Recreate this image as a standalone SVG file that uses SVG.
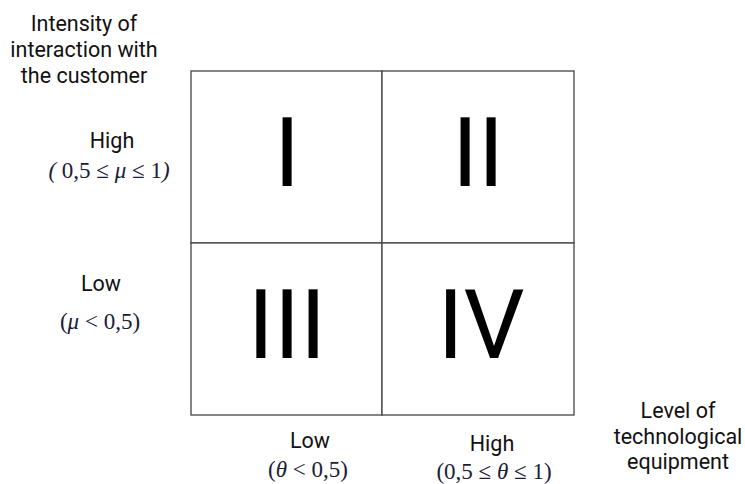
<svg xmlns="http://www.w3.org/2000/svg" width="745" height="484" viewBox="0 0 745 484">
<style>
.lbl{font-family:Roboto,"Liberation Sans",sans-serif;font-size:21.5px;fill:#111;text-anchor:middle}
.math{font-family:"Liberation Serif","DejaVu Serif",serif;font-size:23px;fill:#1a2036;text-anchor:middle;white-space:pre}
.rn{font-family:Roboto,"Liberation Sans",sans-serif;font-size:96px;fill:#000;text-anchor:middle}
.cell{fill:#fff;stroke:#444;stroke-width:1.3}
</style>
<rect width="745" height="484" fill="#fff"/>
<g id="axis-y">
<text class="lbl" x="84" y="31">Intensity of</text>
<text class="lbl" x="84" y="57">interaction with</text>
<text class="lbl" x="84" y="83">the customer</text>
</g>
<g id="y-high">
<text class="lbl" x="112" y="148">High</text>
<text class="math" x="109" y="178"><tspan font-style="italic">(</tspan> 0,5 ≤ <tspan font-style="italic">μ</tspan> ≤ 1<tspan font-style="italic">)</tspan></text>
</g>
<g id="y-low">
<text class="lbl" x="101" y="291">Low</text>
<text class="math" x="100" y="329">(<tspan font-style="italic">μ</tspan> &lt; 0,5)</text>
</g>
<g id="cell-I"><rect class="cell" x="191" y="71" width="191" height="172"/><text class="rn" x="287" y="186">I</text></g>
<g id="cell-II"><rect class="cell" x="382" y="71" width="192" height="172"/><text class="rn" x="478" y="186">II</text></g>
<g id="cell-III"><rect class="cell" x="191" y="243" width="191" height="172"/><text class="rn" x="287" y="358">III</text></g>
<g id="cell-IV"><rect class="cell" x="382" y="243" width="192" height="172"/><text class="rn" x="481" y="358">IV</text></g>
<g id="x-low">
<text class="lbl" x="310" y="448">Low</text>
<text class="math" x="308" y="477">(<tspan font-style="italic">θ</tspan> &lt; 0,5)</text>
</g>
<g id="x-high">
<text class="lbl" x="492" y="451">High</text>
<text class="math" x="494" y="479">(0,5 ≤ <tspan font-style="italic">θ</tspan> ≤ 1)</text>
</g>
<g id="axis-x">
<text class="lbl" x="678" y="418">Level of</text>
<text class="lbl" x="678" y="444">technological</text>
<text class="lbl" x="678" y="469">equipment</text>
</g>
<g id="connectors"></g>
</svg>
